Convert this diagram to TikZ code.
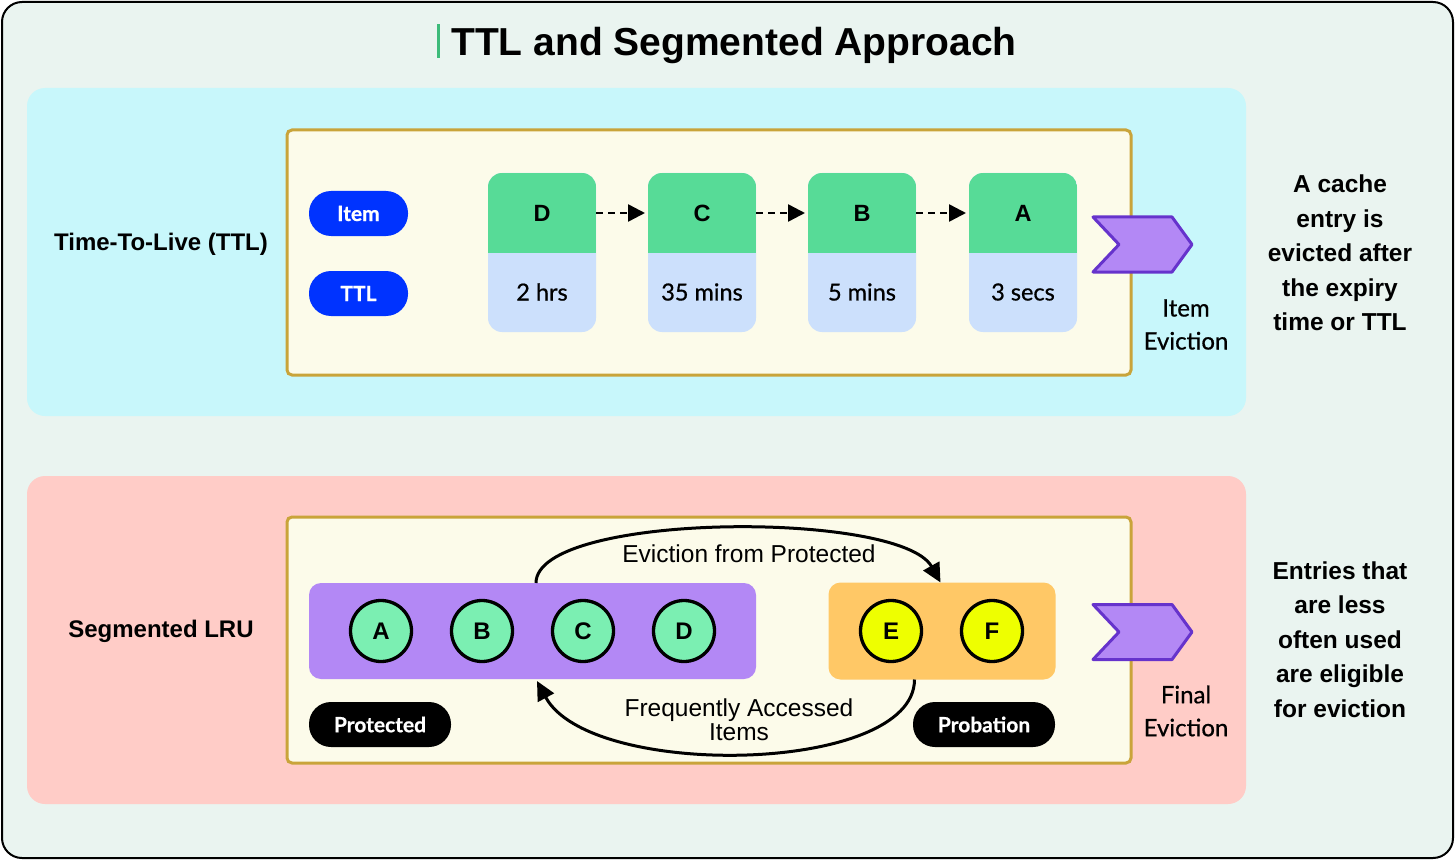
\documentclass[tikz,border=0pt]{standalone}
\usepackage{fontspec}
\setmainfont{Liberation Sans}
\newfontfamily\lato{Lato}[FakeBold=0.7]
\usetikzlibrary{arrows.meta,calc}
\definecolor{bgc}{HTML}{EAF4F0}
\definecolor{cyanp}{HTML}{C8F7FB}
\definecolor{pinkp}{HTML}{FFCCC7}
\definecolor{innerc}{HTML}{FCFBEA}
\definecolor{goldc}{HTML}{C9A43A}
\definecolor{cardgreen}{HTML}{57DB97}
\definecolor{cardblue}{HTML}{CCE0FC}
\definecolor{pillblue}{HTML}{0033FF}
\definecolor{purp}{HTML}{B388F5}
\definecolor{purpdark}{HTML}{6633CC}
\definecolor{circgreen}{HTML}{7BEFB2}
\definecolor{orangec}{HTML}{FFC866}
\definecolor{yellowc}{HTML}{EEFF00}
\definecolor{titlegreen}{HTML}{3DBB7A}
\tikzset{
  panel/.style={rounded corners=18pt, inner sep=0pt, outer sep=0pt, draw=none},
  innerbox/.style={rounded corners=5pt, fill=innerc, draw=goldc, line width=3pt, inner sep=0pt, outer sep=0pt},
  cardbox/.style={rounded corners=14pt, fill=cardblue, minimum width=108pt, minimum height=159pt, inner sep=0pt, outer sep=0pt},
  cardletter/.style={font=\bfseries\fontsize{23.5}{23.5}\selectfont},
  cardtime/.style={font=\lato\fontsize{23.5}{23.5}\selectfont},
  pill/.style={rounded corners=22pt, inner sep=0pt, text=white, font=\lato\bfseries\fontsize{21}{21}\selectfont},
  bluepill/.style={pill, fill=pillblue, minimum width=99pt, minimum height=45pt},
  blackpill/.style={pill, fill=black, minimum width=142pt, minimum height=45pt},
  rowlabel/.style={font=\bfseries\fontsize{24}{24}\selectfont},
  sidetext/.style={align=center, font=\bfseries\fontsize{24.5}{34.5}\selectfont},
  evtext/.style={align=center, font=\lato\fontsize{24}{33}\selectfont},
  chev/.style={fill=purp, draw=purpdark, line width=3pt, line join=round},
  dotarrow/.style={line width=2.5pt, dash pattern=on 7pt off 5pt, -{Triangle[length=17pt,width=17pt]}, shorten >=3pt},
  curvearrow/.style={line width=3pt, -{Triangle[length=19pt,width=18pt]}},
  circ/.style={circle, draw=black, line width=3.3pt, minimum size=61pt, inner sep=0pt, font=\bfseries\fontsize{24}{24}\selectfont},
  curvelabel/.style={align=center, font=\fontsize{24.5}{24}\selectfont},
}
\newcommand\ttlcard[4]{%
  \node[cardbox] (c#1) at (#2,252.5) {};
  \begin{scope}
    \clip[rounded corners=14pt] (c#1.south west) rectangle (c#1.north east);
    \fill[cardgreen] (c#1.north west) rectangle (c#1.east);
  \end{scope}
  \node[cardletter] (l#1) at (#2,213) {#3};
  \node[cardtime] (t#1) at (#2,292) {#4};
}
\newcommand\chevron[1]{%
  \draw[chev] (1093,{#1-27.5}) -- (1172,{#1-27.5}) -- (1192,#1) -- (1172,{#1+27.5}) -- (1093,{#1+27.5}) -- (1119,#1) -- cycle;
}
\begin{document}
\begin{tikzpicture}[x=1pt,y=-1pt]
\useasboundingbox (0,0) rectangle (1456,861);
% outer frame
\draw[line width=2pt, fill=bgc, rounded corners=20pt] (2,2) rectangle (1453,858);
% title
\node[font=\bfseries\fontsize{39}{39}\selectfont, anchor=base] (title) at (734,56) {TTL and Segmented Approach};
\fill[titlegreen] (436.5,24) rectangle (439.5,58);

% ===== TTL panel =====
\node[panel, fill=cyanp, minimum width=1219pt, minimum height=328pt] (ttlpanel) at (636.5,252) {};
\node[innerbox, minimum width=844pt, minimum height=245pt] (ttlbox) at (709,252.5) {};
\node[rowlabel] (ttllabel) at (161,244) {Time-To-Live (TTL)};
\node[bluepill] (itempill) at (358.5,213.5) {Item};
\node[bluepill] (ttlpill) at (358.5,293.5) {TTL};
\ttlcard{D}{542}{D}{2 hrs}
\ttlcard{C}{702}{C}{35 mins}
\ttlcard{B}{862}{B}{5 mins}
\ttlcard{A}{1023}{A}{3 secs}
\draw[dotarrow] (cD.east |- lD) -- (cC.west |- lC);
\draw[dotarrow] (cC.east |- lC) -- (cB.west |- lB);
\draw[dotarrow] (cB.east |- lB) -- (cA.west |- lA);
\chevron{244.5}
\node[evtext] (itemev) at (1186,324.5) {Item\\Eviction};
\node[sidetext] (ttlside) at (1340,253) {A cache\\entry is\\evicted after\\the expiry\\time or TTL};

% ===== Segmented LRU panel =====
\node[panel, fill=pinkp, minimum width=1219pt, minimum height=328pt] (lrupanel) at (636.5,640) {};
\node[innerbox, minimum width=844pt, minimum height=246pt] (lrubox) at (709,640) {};
\node[rowlabel] (lrulabel) at (161,631) {Segmented LRU};
\node[rounded corners=12pt, fill=purp, minimum width=447pt, minimum height=96pt, inner sep=0pt, outer sep=0pt] (protbar) at (532.5,631) {};
\node[rounded corners=12pt, fill=orangec, minimum width=227pt, minimum height=97pt, inner sep=0pt, outer sep=0pt] (probbar) at (942,631) {};
\node[circ, fill=circgreen] (pA) at (381,631) {A};
\node[circ, fill=circgreen] (pB) at (482,631) {B};
\node[circ, fill=circgreen] (pC) at (583,631) {C};
\node[circ, fill=circgreen] (pD) at (684,631) {D};
\node[circ, fill=yellowc] (pE) at (891,631) {E};
\node[circ, fill=yellowc] (pF) at (992,631) {F};
\node[blackpill] (protpill) at (380,724.5) {Protected};
\node[blackpill] (probpill) at (984,724.5) {Probation};
\coordinate (topstart) at ([xshift=227pt]protbar.north west);
\coordinate (topend) at ([xshift=112pt]probbar.north west);
\coordinate (botstart) at ([xshift=86pt]probbar.south west);
\coordinate (botend) at ([xshift=228pt,yshift=-2pt]protbar.south west);
\draw[curvearrow] (topstart) .. controls ++(0,-71) and (900,510) .. (topend);
\draw[curvearrow] (botstart) .. controls ++(0,95) and (590,780) .. (botend);
\node[curvelabel] (evlabel) at (749,554) {Eviction from Protected};
\node[curvelabel] (freqlabel) at (739,720) {Frequently Accessed\\Items};
\chevron{632}
\node[evtext] (finalev) at (1186,711) {Final\\Eviction};
\node[sidetext] (lruside) at (1340,639.5) {Entries that\\are less\\often used\\are eligible\\for eviction};
\end{tikzpicture}
\end{document}
